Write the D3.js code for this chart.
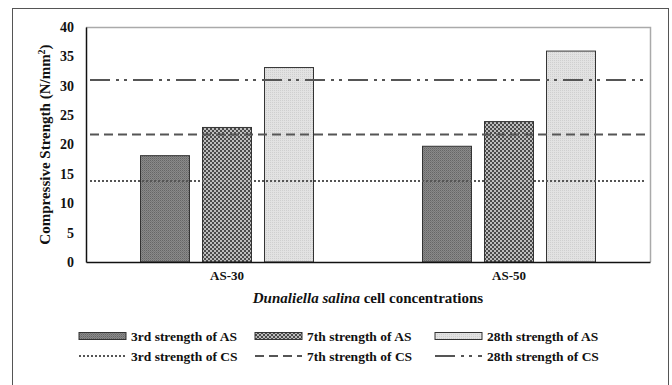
<!DOCTYPE html>
<html>
<head>
<meta charset="utf-8">
<script src="https://cdn.jsdelivr.net/npm/d3@7"></script>
<style>
  body { margin: 0; background: #fff; }
  svg { display: block; }
  svg text { font-family: "Liberation Serif", "Times New Roman", serif; font-weight: 700; }
</style>
</head>
<body>
<svg width="672" height="385"></svg>
<script>
const categories = ["AS-30", "AS-50"];
const barSeries = ["3rd strength of AS", "7th strength of AS", "28th strength of AS"];
const as3rd = [18.1, 19.7];
const as7th = [22.9, 23.9];
const as28th = [33.1, 35.9];
const csSeries = ["3rd strength of CS", "7th strength of CS", "28th strength of CS"];
const csValues = [13.8, 21.7, 31.0];
const yTicks = [0, 5, 10, 15, 20, 25, 30, 35, 40];

const barValues = [as3rd, as7th, as28th];
const fills = ["url(#p3)", "url(#p7)", "url(#p28)"];
const dashes = ["2,2", "9,5", "20,6,3,5,3,6"];

const svg = d3.select("svg");
const margin = { left: 86, right: 650, top: 27, bottom: 262 };

// patterns for the bar fills
const defs = svg.append("defs");
const p3 = defs.append("pattern").attr("id", "p3").attr("width", 2).attr("height", 2).attr("patternUnits", "userSpaceOnUse");
p3.append("rect").attr("width", 2).attr("height", 2).attr("fill", "#8a8a8a");
p3.append("rect").attr("width", 1).attr("height", 1).attr("fill", "#666");
p3.append("rect").attr("x", 1).attr("y", 1).attr("width", 1).attr("height", 1).attr("fill", "#777");
const p7 = defs.append("pattern").attr("id", "p7").attr("width", 4).attr("height", 4).attr("patternUnits", "userSpaceOnUse");
p7.append("rect").attr("width", 4).attr("height", 4).attr("fill", "#4a4a4a");
p7.append("rect").attr("width", 2).attr("height", 2).attr("fill", "#bdbdbd");
p7.append("rect").attr("x", 2).attr("y", 2).attr("width", 2).attr("height", 2).attr("fill", "#bdbdbd");
const p28 = defs.append("pattern").attr("id", "p28").attr("width", 2).attr("height", 2).attr("patternUnits", "userSpaceOnUse");
p28.append("rect").attr("width", 2).attr("height", 2).attr("fill", "#e2e2e2");
p28.append("rect").attr("width", 1).attr("height", 1).attr("fill", "#cfcfcf");

// outer frame
svg.append("rect")
  .attr("x", 12.5).attr("y", 8.5).attr("width", 656).attr("height", 390)
  .attr("fill", "none").attr("stroke", "#555").attr("stroke-width", 1);

const x0 = d3.scaleBand().domain(categories).range([margin.left, margin.right]);
const x1 = d3.scaleBand().domain(barSeries).range([0, x0.bandwidth()])
  .paddingInner(0.21).paddingOuter(0.879);
const y = d3.scaleLinear().domain([0, 40]).range([margin.bottom, margin.top]);

// plot border (grey top/right)
svg.append("path")
  .attr("d", `M${margin.left},${margin.top + 0.5}H${margin.right + 0.5}V${margin.bottom}`)
  .attr("fill", "none").attr("stroke", "#aaa").attr("stroke-width", 1.5);

// bars
categories.forEach((cat, ci) => {
  svg.append("g")
    .selectAll("rect")
    .data(barSeries)
    .join("rect")
    .attr("x", s => x0(cat) + x1(s))
    .attr("y", (s, si) => y(barValues[si][ci]))
    .attr("width", x1.bandwidth())
    .attr("height", (s, si) => y(0) - y(barValues[si][ci]))
    .attr("fill", (s, si) => fills[si])
    .attr("stroke", "#333")
    .attr("stroke-width", 1);
});

// control strength reference lines
svg.append("g")
  .selectAll("line")
  .data(csValues)
  .join("line")
  .attr("x1", margin.left + 4)
  .attr("x2", margin.right - 4)
  .attr("y1", d => y(d))
  .attr("y2", d => y(d))
  .attr("stroke", "#555")
  .attr("stroke-width", 2)
  .attr("stroke-dasharray", (d, i) => dashes[i]);

// axes
const yAxis = svg.append("g")
  .attr("transform", `translate(${margin.left},0)`)
  .call(d3.axisLeft(y).tickValues(yTicks).tickSize(0).tickPadding(12));
yAxis.attr("font-family", null).attr("font-size", null);
yAxis.select(".domain").attr("stroke", "#111").attr("stroke-width", 1.5);
yAxis.selectAll("text").attr("font-size", 14).attr("fill", "#111");

const xAxis = svg.append("g")
  .attr("transform", `translate(0,${margin.bottom})`)
  .call(d3.axisBottom(x0).tickSize(0).tickPadding(9));
xAxis.attr("font-family", null).attr("font-size", null);
xAxis.select(".domain").attr("stroke", "#111").attr("stroke-width", 1.5);
xAxis.selectAll("text").attr("font-size", 13).attr("fill", "#111");

// axis titles
const yTitle = svg.append("text")
  .attr("transform", `translate(45,${(margin.top + margin.bottom) / 2}) rotate(-90)`)
  .attr("text-anchor", "middle")
  .attr("dy", "0.35em")
  .attr("font-size", 15)
  .attr("fill", "#111");
yTitle.append("tspan").text("Compressive Strength (N/mm");
yTitle.append("tspan").attr("baseline-shift", "super").attr("font-size", 10).text("2");
yTitle.append("tspan").text(")");

const xTitle = svg.append("text")
  .attr("x", 368).attr("y", 303)
  .attr("text-anchor", "middle")
  .attr("font-size", 15)
  .attr("fill", "#111");
xTitle.append("tspan").attr("font-style", "italic").text("Dunaliella salina");
xTitle.append("tspan").text(" cell concentrations");

// legend
const legendX = [79, 255, 435];
const swW = 47;
const row1 = 336, row2 = 356;

const leg1 = svg.append("g").selectAll("g").data(barSeries).join("g")
  .attr("transform", (d, i) => `translate(${legendX[i]},${row1})`);
leg1.append("rect")
  .attr("y", -3.5).attr("width", swW).attr("height", 7)
  .attr("fill", (d, i) => fills[i]).attr("stroke", "#333").attr("stroke-width", 1);
leg1.append("text")
  .attr("x", swW + 5).attr("dy", "0.35em")
  .attr("font-size", 13.5).attr("fill", "#111")
  .text(d => d);

const leg2 = svg.append("g").selectAll("g").data(csSeries).join("g")
  .attr("transform", (d, i) => `translate(${legendX[i]},${row2})`);
leg2.append("line")
  .attr("x1", 0).attr("x2", swW)
  .attr("stroke", "#555").attr("stroke-width", 2)
  .attr("stroke-dasharray", (d, i) => dashes[i]);
leg2.append("text")
  .attr("x", swW + 5).attr("dy", "0.35em")
  .attr("font-size", 13.5).attr("fill", "#111")
  .text(d => d);
</script>
</body>
</html>
